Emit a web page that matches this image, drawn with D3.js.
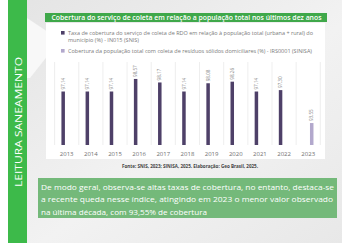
<!DOCTYPE html>
<html><head><meta charset="utf-8">
<script src="https://cdn.jsdelivr.net/npm/d3@7"></script>
<style>html,body{margin:0;padding:0;background:#fff;}svg{display:block;}</style>
</head><body>
<script>
const years = ["2013","2014","2015","2016","2017","2018","2019","2020","2021","2022","2023"];
const seriesNames = [
  "Taxa de cobertura do serviço de coleta de RDO em relação à população total (urbana + rural) do",
  "Cobertura da população total com coleta de resíduos sólidos domiciliares (%) - IRS0001 (SINISA)"
];
const legendLine2 = "município (%) - IN015 (SNIS)";
const snisValues = [97.14, 97.14, 97.14, 98.57, 98.17, 97.14, 98.08, 98.26, 97.14, 97.30, null];
const sinisaValues = [null, null, null, null, null, null, null, null, null, null, 93.55];
const title = "Cobertura do serviço de coleta em relação a população total nos últimos dez anos";
const source = "Fonte: SNIS, 2023; SINISA, 2025. Elaboração: Geo Brasil, 2025.";
const sideLabel = "LEITURA SANEAMENTO";
const noteLines = [
  "De modo geral, observa-se altas taxas de cobertura, no entanto, destaca-se",
  "a recente queda nesse índice, atingindo em 2023 o menor valor observado",
  "na última década, com 93,55% de cobertura"
];
const colors = ["#4e4068", "#b2a8cc"];

const W = 349, H = 248;
const svg = d3.select("body").append("svg").attr("width", W).attr("height", H);
const defs = svg.append("defs");
const bg = defs.append("linearGradient").attr("id","bg").attr("x1","0").attr("y1","0").attr("x2","1").attr("y2","1");
bg.append("stop").attr("offset","0").attr("stop-color","#e4e4e4");
bg.append("stop").attr("offset","0.55").attr("stop-color","#f2f2f2");
bg.append("stop").attr("offset","1").attr("stop-color","#e8e8e8");

svg.append("rect").attr("width",W).attr("height",H).attr("fill","#ffffff");
svg.append("rect").attr("x",8).attr("y",0).attr("width",334).attr("height",243).attr("fill","url(#bg)");
svg.append("path").attr("d","M27,18 L60,40 L30,78 L27,78 Z").attr("fill","#fafafa").attr("opacity",0.9);
svg.append("rect").attr("x",8).attr("y",0).attr("width",19).attr("height",243).attr("fill","#3dba4a");
svg.append("text").attr("transform","translate(21.5,122) rotate(-90)")
  .attr("text-anchor","middle").attr("font-family","Open Sans, sans-serif").attr("font-size",9.5)
  .attr("font-weight",500).attr("fill","#ffffff").attr("textLength",130).attr("lengthAdjust","spacingAndGlyphs")
  .text(sideLabel);

svg.append("rect").attr("x",46).attr("y",23).attr("width",279).attr("height",136).attr("fill","#ffffff");
svg.append("rect").attr("x",45).attr("y",13).attr("width",282).attr("height",9).attr("fill","#3fa84a");
svg.append("text").attr("x",51.5).attr("y",20.2).attr("font-family","Open Sans, sans-serif").attr("font-size",7)
  .attr("font-weight",600).attr("fill","#ffffff").attr("textLength",270).attr("lengthAdjust","spacingAndGlyphs").text(title);

const lg = svg.append("g").attr("font-family","Open Sans, sans-serif").attr("font-size",5).attr("fill","#7a7a7a");
lg.append("rect").attr("x",61).attr("y",31).attr("width",3.6).attr("height",3.6).attr("fill",colors[0]);
lg.append("text").attr("x",68).attr("y",34.6).attr("textLength",245).attr("lengthAdjust","spacingAndGlyphs").text(seriesNames[0]);
lg.append("text").attr("x",68).attr("y",42.3).attr("textLength",71).attr("lengthAdjust","spacingAndGlyphs").text(legendLine2);
lg.append("rect").attr("x",61).attr("y",49).attr("width",3.6).attr("height",3.6).attr("fill",colors[1]);
lg.append("text").attr("x",68).attr("y",52.6).attr("textLength",244).attr("lengthAdjust","spacingAndGlyphs").text(seriesNames[1]);

const x0 = d3.scaleBand().domain(years).range([54.6, 320.3]).padding(0);
const step = x0.step();
const x1 = d3.scaleBand().domain([0,1]).range([step/2-5.25, step/2+5.25]).paddingInner(0.5);
const y = d3.scaleLinear().domain([91.05, 100.5]).range([145, 62]);
const fmt = d3.formatLocale({decimal:",", thousands:".", grouping:[3], currency:["R$",""]}).format(".2f");

const grid = svg.append("g");
d3.range(years.length+1).forEach(i => {
  const gx = 54.6 + i*step;
  grid.append("line").attr("x1",gx).attr("x2",gx).attr("y1",62).attr("y2",145)
    .attr("stroke","#e6e6e6").attr("stroke-width",0.7);
});

const data = [snisValues, sinisaValues];
const bars = svg.append("g");
data.forEach((vals, s) => {
  years.forEach((yr, i) => {
    const v = vals[i];
    if (v == null) return;
    const bx = x0(yr) + x1(s);
    bars.append("rect").attr("x",bx).attr("y",y(v)).attr("width",x1.bandwidth()).attr("height",y.range()[0]-y(v)).attr("fill",colors[s]);
    bars.append("text").attr("transform",`translate(${bx + x1.bandwidth()/2 + 1.6},${y(v)-2}) rotate(-90)`)
      .attr("font-family","Open Sans, sans-serif").attr("font-size",4.6).attr("fill","#888").text(fmt(v));
  });
});

const xa = svg.append("g").attr("transform","translate(0,145)")
  .call(d3.axisBottom(x0).tickSize(0).tickPadding(7));
xa.select(".domain").remove();
xa.selectAll("text").attr("font-family","Open Sans, sans-serif").attr("font-size",6).attr("fill","#707070");

svg.append("text").attr("x",190).attr("y",167.5).attr("text-anchor","middle").attr("font-family","Open Sans, sans-serif")
  .attr("font-size",4.6).attr("font-weight",700).attr("fill","#444").attr("textLength",136).attr("lengthAdjust","spacingAndGlyphs").text(source);

svg.append("rect").attr("x",38).attr("y",178).attr("width",299).attr("height",40).attr("fill","#74b97a");
const nt = svg.append("g").attr("font-family","Open Sans, sans-serif").attr("font-size",8).attr("fill","#ffffff");
const lens = [293, 292, 166];
noteLines.forEach((l,i) => {
  nt.append("text").attr("x",41).attr("y",189.5 + i*12.8).attr("textLength",lens[i]).attr("lengthAdjust","spacingAndGlyphs").text(l);
});
</script>
</body></html>
